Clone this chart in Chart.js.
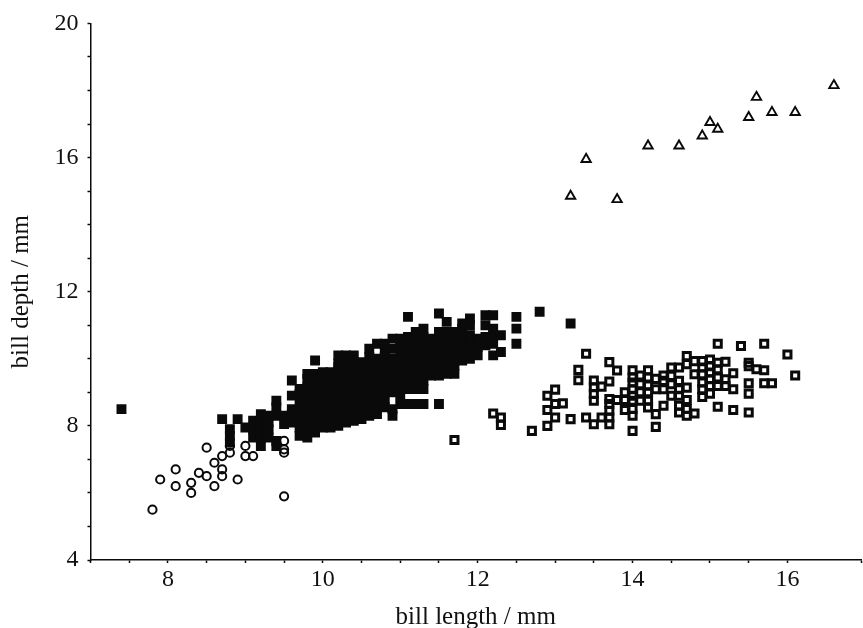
<!DOCTYPE html>
<html>
<head>
<meta charset="utf-8">
<title>Bill size scatter</title>
<script src="https://cdn.jsdelivr.net/npm/chart.js@4/dist/chart.umd.min.js"></script>
<style>
  html, body { margin: 0; padding: 0; background: #fff; }
  canvas { display: block; }
</style>
</head>
<body>
<canvas id="chart" width="863" height="628"></canvas>
<script>
// Values (bill length, bill depth in mm)
const xTickLabels = [8, 10, 12, 14, 16];
const yTickLabels = [4, 8, 12, 16, 20];

// Open circles
const circleLength = [7.8, 7.9, 8.1, 8.1, 8.3, 8.3, 8.4, 8.5, 8.5, 8.6, 8.6, 8.7, 8.7, 8.7, 8.8, 8.8, 8.9, 9.0, 9.0, 9.1, 9.5, 9.5, 9.5, 9.5];
const circleDepth  = [5.5, 6.4, 6.7, 6.2, 6.3, 6.0, 6.6, 6.5, 7.35, 6.9, 6.2, 6.7, 6.5, 7.1, 7.2, 7.4, 6.4, 7.4, 7.1, 7.1, 7.55, 7.3, 7.2, 5.9];

// Open triangles
const triangleLength = [13.2, 13.4, 13.8, 14.2, 14.6, 14.9, 15.0, 15.1, 15.5, 15.6, 15.8, 16.1, 16.6];
const triangleDepth  = [14.85, 15.95, 14.75, 16.35, 16.35, 16.65, 17.05, 16.85, 17.2, 17.8, 17.35, 17.35, 18.15];

// Open squares, one depth list per length value
const openLength = [11.7, 12.2, 12.3, 12.7, 12.9, 13.0, 13.1, 13.2, 13.3, 13.4, 13.5, 13.6, 13.7, 13.8, 13.9, 14.0, 14.1, 14.2, 14.3, 14.4, 14.5, 14.6, 14.7, 14.8, 14.9, 15.0, 15.1, 15.2, 15.3, 15.4, 15.5, 15.6, 15.7, 15.8, 16.0, 16.1];
const openDepth = [
  [7.58],
  [8.37],
  [8.03, 8.25],
  [7.85],
  [8.0, 8.47, 8.9],
  [8.25, 8.65, 9.08],
  [8.67],
  [8.2],
  [9.36, 9.67],
  [8.25, 10.15],
  [8.05, 8.75, 8.95, 9.15, 9.35],
  [8.25, 9.17],
  [8.05, 8.25, 8.45, 8.65, 8.8, 9.32, 9.9],
  [8.77, 9.65],
  [8.47, 8.77, 9.0],
  [7.85, 8.3, 8.5, 8.75, 8.9, 9.09, 9.29, 9.44, 9.66],
  [8.75, 9.0, 9.24, 9.5],
  [8.55, 8.75, 9.0, 9.2, 9.44, 9.66],
  [7.97, 8.35, 9.09, 9.4],
  [8.6, 9.09, 9.34, 9.5],
  [8.9, 9.24, 9.49, 9.74],
  [8.4, 8.6, 8.9, 9.09, 9.34, 9.74],
  [8.3, 8.5, 8.77, 9.14, 9.84, 10.08],
  [8.37, 9.54, 9.93],
  [8.86, 9.09, 9.29, 9.54, 9.74, 9.93],
  [8.96, 9.19, 9.39, 9.59, 9.78, 9.98],
  [8.57, 9.19, 9.44, 9.69, 9.88, 10.45],
  [9.19, 9.39, 9.91],
  [8.47, 9.09, 9.57],
  [10.38],
  [8.4, 8.96, 9.27, 9.78, 9.88],
  [9.69],
  [9.27, 9.66, 10.45],
  [9.27],
  [10.13],
  [9.5]
];

// Filled squares, one depth list per length value
const solidLength = [7.4, 8.7, 8.8, 8.9, 9.0, 9.1, 9.2, 9.3, 9.4, 9.5, 9.6, 9.7, 9.8, 9.9, 10.0, 10.1, 10.2, 10.3, 10.4, 10.5, 10.6, 10.7, 10.8, 10.9, 11.0, 11.1, 11.2, 11.3, 11.4, 11.5, 11.6, 11.7, 11.8, 11.9, 12.0, 12.1, 12.2, 12.3, 12.5, 12.8, 13.2];
const solidDepth = [
  [8.5],
  [8.2],
  [7.5, 7.7, 7.9],
  [8.2],
  [7.95],
  [7.65, 7.9, 8.15],
  [7.4, 7.65, 7.9, 8.1, 8.35],
  [7.65, 7.9, 8.1, 8.3],
  [7.4, 7.55, 8.3, 8.55, 8.75],
  [8.05, 8.3],
  [8.1, 8.35, 8.5, 8.9, 9.35],
  [7.7, 7.95, 8.2, 8.45, 8.7, 8.95, 9.1],
  [7.65, 7.9, 8.15, 8.4, 8.65, 8.9, 9.15, 9.4, 9.55],
  [7.8, 8.05, 8.3, 8.55, 8.8, 9.05, 9.3, 9.55, 9.95],
  [7.95, 8.2, 8.45, 8.7, 8.95, 9.2, 9.4, 9.6],
  [7.95, 8.2, 8.45, 8.7, 8.95, 9.2, 9.45, 9.6],
  [8.0, 8.25, 8.5, 8.75, 9.0, 9.25, 9.5, 9.75, 9.85, 10.1],
  [8.1, 8.35, 8.6, 8.85, 9.1, 9.35, 9.6, 9.85, 10.1],
  [8.15, 8.4, 8.65, 8.9, 9.15, 9.4, 9.65, 9.9, 10.1],
  [8.2, 8.45, 8.7, 8.95, 9.2, 9.45, 9.7, 9.9],
  [8.3, 8.55, 8.8, 9.05, 9.3, 9.55, 9.8, 10.05, 10.3],
  [8.35, 8.6, 8.85, 9.1, 9.35, 9.6, 9.85, 10.0, 10.45],
  [8.55, 8.8, 9.05, 9.3, 9.55, 9.8, 10.05, 10.2, 10.45],
  [8.3, 8.5, 9.0, 9.25, 9.5, 9.75, 10.0, 10.3, 10.6],
  [8.65, 8.95, 9.2, 9.45, 9.7, 9.95, 10.2, 10.4, 10.6],
  [8.65, 9.1, 9.35, 9.6, 9.85, 10.1, 10.35, 10.65, 11.25],
  [8.65, 9.1, 9.35, 9.6, 9.85, 10.1, 10.35, 10.6, 10.8],
  [8.65, 9.1, 9.35, 9.6, 9.85, 10.1, 10.35, 10.65, 10.9],
  [9.5, 9.75, 10.0, 10.25, 10.45, 10.6],
  [8.65, 9.5, 9.75, 10.0, 10.25, 10.5, 10.8, 11.35],
  [9.55, 9.8, 10.05, 10.3, 10.55, 10.8, 11.1],
  [9.55, 9.8, 10.05, 10.3, 10.55, 10.8],
  [9.95, 10.2, 10.45, 10.7, 10.9, 11.05],
  [10.0, 10.25, 10.5, 10.7, 11.0, 11.2],
  [10.1, 10.35, 10.6],
  [10.4, 10.65, 11.0, 11.3],
  [10.1, 10.45, 10.7, 10.9, 11.3],
  [10.2, 10.7],
  [10.45, 10.9, 11.25],
  [11.4],
  [11.05]
];

function zipPairs(xs, ys) {
  return xs.map((x, i) => ({ x: x, y: ys[i] }));
}

function zipColumns(xs, columns) {
  return xs.flatMap((x, i) => columns[i].map(y => ({ x: x, y: y })));
}

const serif = 'Liberation Serif';

new Chart(document.getElementById('chart'), {
  type: 'scatter',
  data: {
    datasets: [
      {
        data: zipColumns(solidLength, solidDepth),
        pointStyle: 'rect', pointRadius: 7, order: 4,
        backgroundColor: '#0a0a0a', borderWidth: 0
      },
      {
        data: zipColumns(openLength, openDepth),
        pointStyle: 'rect', pointRadius: 5, order: 3,
        backgroundColor: 'transparent', borderColor: '#0a0a0a', borderWidth: 3
      },
      {
        data: zipPairs(circleLength, circleDepth),
        pointStyle: 'circle', pointRadius: 4.1, order: 2,
        backgroundColor: 'transparent', borderColor: '#0a0a0a', borderWidth: 2
      },
      {
        data: zipPairs(triangleLength, triangleDepth),
        pointStyle: 'triangle', pointRadius: 5.4, order: 1,
        backgroundColor: 'transparent', borderColor: '#0a0a0a', borderWidth: 1.9
      }
    ]
  },
  options: {
    responsive: false,
    animation: false,
    layout: { autoPadding: false, padding: { top: 22, right: 0, bottom: 0, left: 0 } },
    plugins: { legend: { display: false }, tooltip: { enabled: false } },
    scales: {
      x: {
        type: 'linear', min: 7, max: 16.95,
        afterFit: s => { s.height = 68; },
        border: { color: '#0a0a0a', width: 1.5 },
        grid: { drawOnChartArea: false, color: '#0a0a0a', tickLength: 3, tickWidth: 1.5 },
        ticks: {
          stepSize: 0.5, autoSkip: false, maxRotation: 0, padding: 2,
          color: '#111', font: { family: serif, size: 24 },
          callback: v => xTickLabels.includes(v) ? String(v) : ''
        },
        title: {
          display: true, text: 'bill length / mm', color: '#111',
          font: { family: serif, size: 25 }, padding: { top: 12, bottom: -4 }
        }
      },
      y: {
        type: 'linear', min: 4, max: 20,
        afterFit: s => { s.width = 90.5; },
        border: { color: '#0a0a0a', width: 1.5 },
        grid: { drawOnChartArea: false, color: '#0a0a0a', tickLength: 3, tickWidth: 1.5 },
        ticks: {
          stepSize: 1, autoSkip: false, padding: 9,
          color: '#111', font: { family: serif, size: 24 },
          callback: v => yTickLabels.includes(v) ? String(v) : ''
        },
        title: {
          display: true, text: 'bill depth / mm', color: '#111',
          font: { family: serif, size: 25 }, padding: { top: 6, bottom: 0 }
        }
      }
    }
  }
});
</script>
</body>
</html>
